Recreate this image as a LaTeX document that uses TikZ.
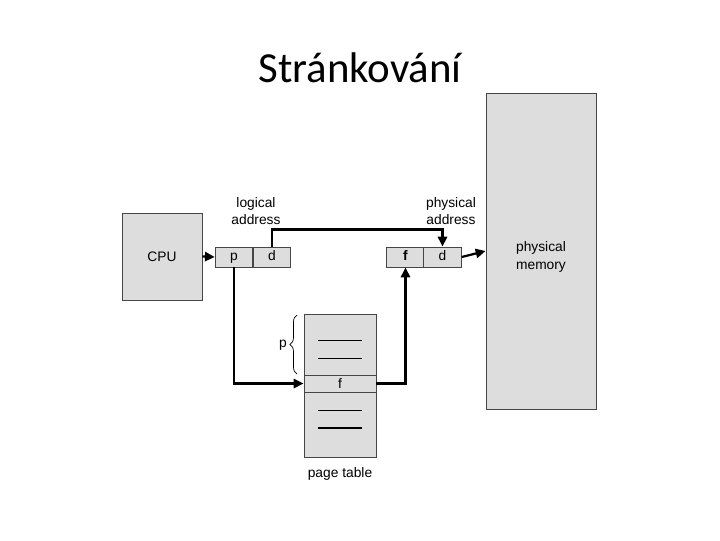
\documentclass[tikz,border=0pt]{standalone}
\usepackage{fontspec}
\setmainfont{Liberation Sans}
\newfontfamily\titlefont{Carlito}
\usepackage{tikz}
\usetikzlibrary{positioning,arrows.meta,decorations.pathreplacing}

\definecolor{boxgray}{RGB}{221,221,221}
\definecolor{edgegray}{RGB}{70,70,70}

\begin{document}
\begin{tikzpicture}[
  x=0.025cm, y=-0.025cm,
  font=\fontsize{9.8}{12.5}\selectfont,
  >={Triangle[length=7pt,width=6.5pt]},
  graybox/.style={draw=edgegray, fill=boxgray, line width=0.6pt, inner sep=0pt},
  addrcell/.style={graybox, minimum width=0.94cm, minimum height=0.5cm, text height=7pt, text depth=2pt},
  flow/.style={->, draw=black, line width=1.6pt},
  entry/.style={draw=black, line width=0.6pt}
]
  \useasboundingbox (0,0) rectangle (720,540);

  \node[font=\titlefont\fontsize{30.5}{36}\selectfont] (title) at (360,68) {Stránkování};

  % cpu and memory
  \node[graybox, minimum width=2cm, minimum height=2.175cm] (cpu) at (162,256.5) {CPU};
  \node[graybox, minimum width=2.75cm, minimum height=7.9cm] (mem) at (541,251) {};
  \node[align=center] (memtext) at (541,257) {physical\\memory};

  % logical address
  \node[addrcell] (pcell) at (234,257) {p};
  \node[addrcell] (dcell) at (272,257) {d};
  \node[align=center] (logtext) at (256,211) {logical\\address};

  % physical address
  \node[addrcell] (fcell) at (405.5,257) {\textbf{f}};
  \node[addrcell] (pdcell) at (442.5,257) {d};
  \node[align=center] (phystext) at (451,211) {physical\\address};

  % page table
  \node[graybox, minimum width=1.8cm, minimum height=3.575cm] (ptab) at (340,385.5) {};
  \node[graybox, minimum width=1.8cm, minimum height=0.425cm] (frow) at (340,383.5) {f};
  \draw[entry] (318,340) -- (362,340);
  \draw[entry] (318,358) -- (362,358);
  \draw[entry] (318,410) -- (362,410);
  \draw[entry, line width=1.3pt] (318,428) -- (362,428);
  \node (ptabtext) at (340,474) {page table};

  \draw[decorate, decoration={brace, amplitude=5pt}, line width=0.5pt]
    (297,374) -- (297,315);
  \node (ptext) at (283,345) {p};

  % connectors
  \draw[flow] (cpu.east) -- (pcell.west);
  \draw[flow] (dcell.north) -- ++(0,-17) -| (pdcell.north);
  \draw[flow] (pcell.south) |- (frow.west);
  \draw[flow] (frow.east) -| (fcell.south);
  \draw[flow] (pdcell.east) -- (mem.west);
\end{tikzpicture}
\end{document}
